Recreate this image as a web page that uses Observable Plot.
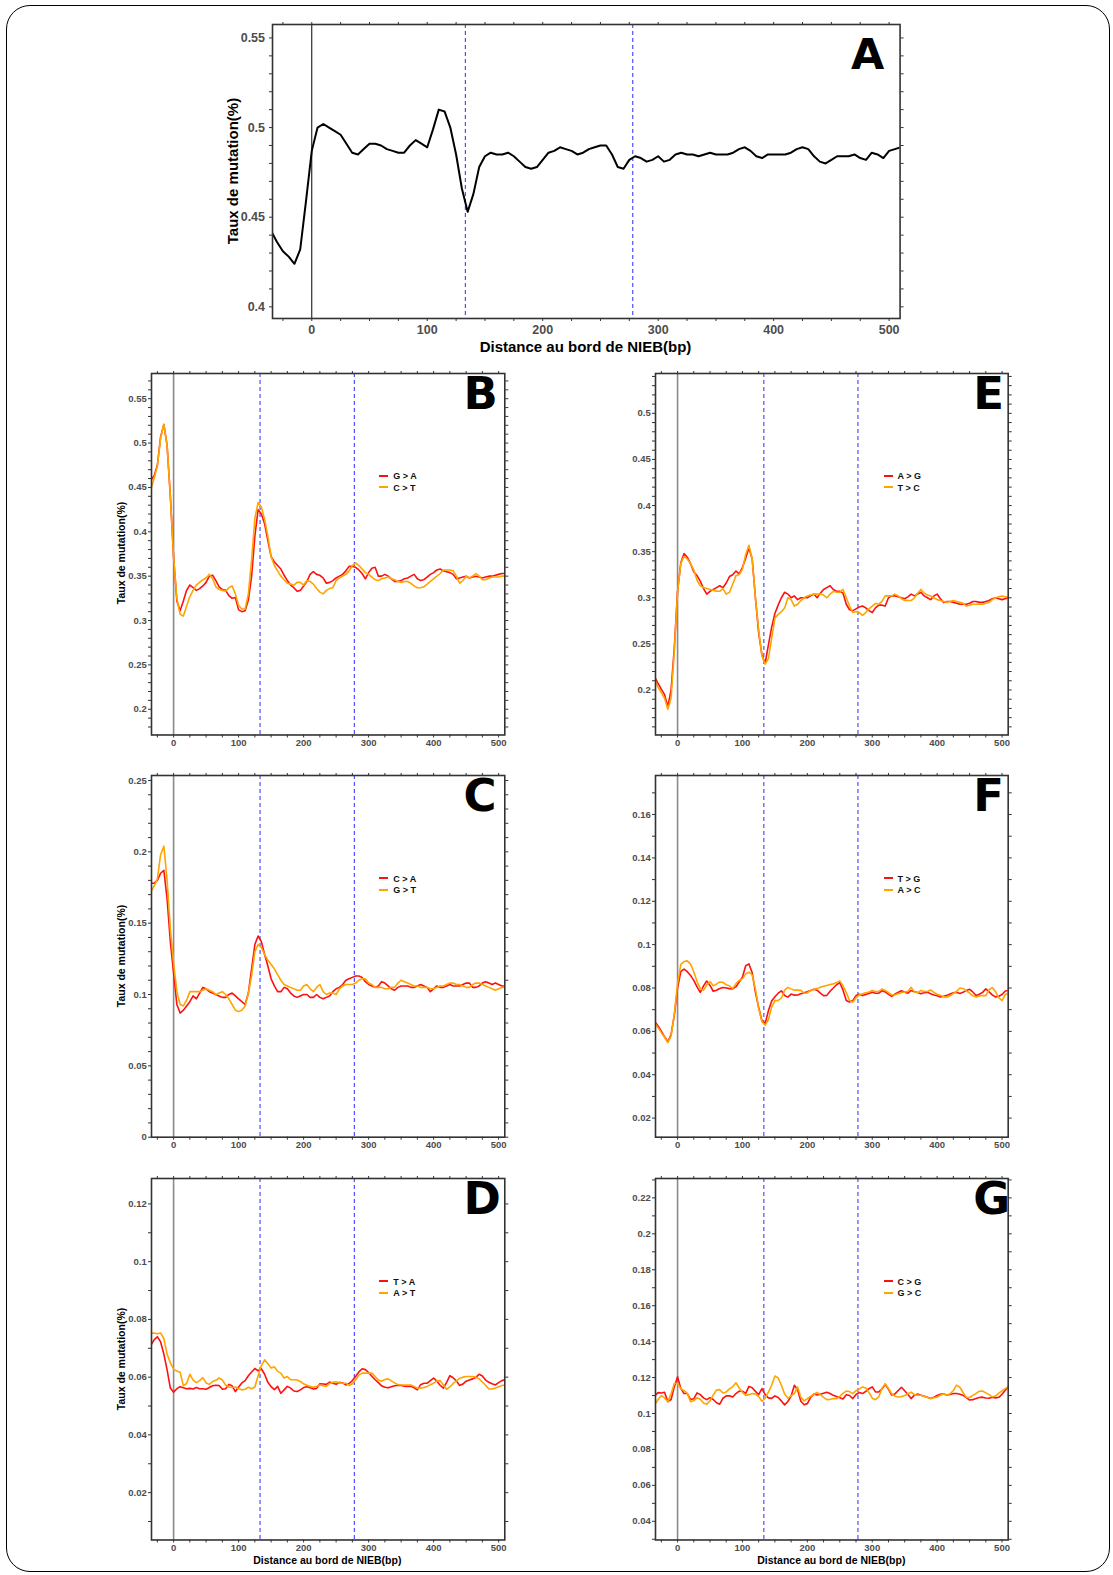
<!DOCTYPE html>
<html><head><meta charset="utf-8">
<script src="https://cdn.jsdelivr.net/npm/d3@7"></script>
<script src="https://cdn.jsdelivr.net/npm/@observablehq/plot@0.6"></script>
<style>
body{margin:0;background:#fff;}
#page{position:relative;width:1113px;height:1575px;overflow:hidden;font-family:"Liberation Sans",Arial,sans-serif;}
#border{position:absolute;left:6px;top:5px;width:1104px;height:1567px;border:1.5px solid #000;border-radius:24px;box-sizing:border-box;}
.panel{position:absolute;}
.ttl{position:absolute;font-weight:bold;color:#000;white-space:nowrap;}
.leg{position:absolute;font-weight:bold;font-size:9px;color:#111;line-height:11.3px;white-space:nowrap;}
.leg .sw{display:inline-block;width:9px;height:2px;vertical-align:middle;margin-right:5px;position:relative;top:-1px;}
</style></head>
<body><div id="page"><div id="border"></div></div>
<script>
// positions (bp) : -35 .. 510, step 5
const pos = [-35,-30,-25,-20,-15,-10,-5,0,5,10,15,20,25,30,35,40,45,50,55,60,65,70,75,80,85,90,95,100,105,110,115,120,125,130,135,140,145,150,155,160,165,170,175,180,185,190,195,200,205,210,215,220,225,230,235,240,245,250,255,260,265,270,275,280,285,290,295,300,305,310,315,320,325,330,335,340,345,350,355,360,365,370,375,380,385,390,395,400,405,410,415,420,425,430,435,440,445,450,455,460,465,470,475,480,485,490,495,500,505,510];

const rateA = [0.442,0.436,0.431,0.428,0.424,0.432,0.459,0.487,0.500,0.502,
0.500,0.498,0.496,0.491,0.486,0.485,0.488,0.491,0.491,0.490,
0.488,0.487,0.486,0.486,0.490,0.493,0.491,0.489,0.499,0.510,
0.509,0.500,0.485,0.466,0.453,0.463,0.478,0.484,0.486,0.485,
0.485,0.486,0.484,0.481,0.478,0.477,0.478,0.482,0.486,0.487,
0.489,0.488,0.487,0.485,0.486,0.488,0.489,0.490,0.490,0.485,
0.478,0.477,0.482,0.484,0.483,0.481,0.482,0.484,0.481,0.482,
0.485,0.486,0.485,0.485,0.484,0.485,0.486,0.485,0.485,0.485,
0.486,0.488,0.489,0.487,0.484,0.483,0.485,0.485,0.485,0.485,
0.486,0.488,0.489,0.488,0.484,0.481,0.480,0.482,0.484,0.484,
0.484,0.485,0.483,0.482,0.486,0.485,0.483,0.487,0.488,0.489];

const gaB = [0.458,0.463,0.475,0.507,0.521,0.497,0.440,0.371,0.322,0.311,
0.322,0.334,0.340,0.337,0.334,0.336,0.339,0.343,0.350,0.351,
0.345,0.338,0.335,0.334,0.328,0.325,0.326,0.312,0.310,0.311,
0.323,0.350,0.395,0.425,0.420,0.409,0.390,0.372,0.366,0.362,
0.358,0.351,0.345,0.340,0.337,0.333,0.334,0.339,0.344,0.352,
0.355,0.352,0.351,0.348,0.342,0.343,0.345,0.348,0.350,0.352,
0.356,0.361,0.361,0.360,0.357,0.353,0.347,0.354,0.359,0.360,
0.350,0.350,0.352,0.350,0.347,0.344,0.344,0.345,0.347,0.348,
0.350,0.352,0.347,0.345,0.346,0.349,0.352,0.354,0.357,0.358,
0.356,0.355,0.354,0.352,0.347,0.348,0.349,0.350,0.348,0.349,
0.350,0.349,0.348,0.349,0.350,0.350,0.351,0.352,0.353,0.353];
const ctB = [0.448,0.460,0.474,0.506,0.521,0.497,0.440,0.371,0.325,0.307,
0.305,0.316,0.327,0.334,0.340,0.343,0.346,0.348,0.352,0.347,
0.338,0.335,0.334,0.333,0.337,0.339,0.330,0.317,0.313,0.313,
0.330,0.368,0.415,0.433,0.428,0.414,0.395,0.372,0.362,0.356,
0.350,0.346,0.342,0.341,0.340,0.343,0.343,0.340,0.345,0.344,
0.341,0.336,0.332,0.330,0.334,0.336,0.337,0.345,0.348,0.350,
0.352,0.356,0.362,0.365,0.362,0.358,0.354,0.352,0.349,0.346,
0.345,0.347,0.348,0.349,0.347,0.346,0.344,0.343,0.344,0.344,
0.342,0.339,0.337,0.337,0.338,0.341,0.344,0.347,0.350,0.353,
0.357,0.357,0.357,0.356,0.350,0.342,0.345,0.350,0.348,0.350,
0.353,0.350,0.346,0.346,0.348,0.349,0.349,0.349,0.350,0.350];

const caC = [0.178,0.178,0.180,0.185,0.187,0.167,0.137,0.115,0.093,0.087,
0.089,0.092,0.095,0.099,0.097,0.101,0.105,0.104,0.102,0.101,
0.100,0.099,0.098,0.098,0.100,0.101,0.099,0.097,0.095,0.093,
0.101,0.118,0.135,0.141,0.137,0.128,0.120,0.111,0.106,0.102,
0.102,0.105,0.104,0.101,0.099,0.098,0.099,0.100,0.100,0.098,
0.098,0.100,0.098,0.097,0.098,0.099,0.102,0.104,0.105,0.107,
0.110,0.111,0.112,0.113,0.113,0.112,0.109,0.107,0.106,0.105,
0.106,0.109,0.108,0.106,0.104,0.103,0.105,0.106,0.106,0.106,
0.105,0.105,0.106,0.107,0.106,0.105,0.102,0.104,0.106,0.105,
0.105,0.106,0.107,0.106,0.106,0.106,0.107,0.108,0.108,0.105,
0.105,0.106,0.108,0.109,0.108,0.107,0.108,0.107,0.106,0.106];
const gtC = [0.172,0.176,0.181,0.198,0.204,0.180,0.146,0.122,0.102,0.093,
0.092,0.096,0.102,0.102,0.102,0.102,0.103,0.104,0.103,0.102,
0.100,0.101,0.102,0.100,0.097,0.093,0.089,0.088,0.089,0.092,
0.101,0.113,0.130,0.135,0.133,0.128,0.124,0.121,0.118,0.114,
0.110,0.107,0.106,0.105,0.104,0.103,0.103,0.106,0.107,0.104,
0.102,0.105,0.107,0.102,0.100,0.101,0.101,0.100,0.104,0.106,
0.107,0.107,0.107,0.108,0.110,0.111,0.111,0.108,0.107,0.105,
0.105,0.105,0.104,0.104,0.105,0.105,0.108,0.110,0.109,0.108,
0.107,0.106,0.106,0.105,0.105,0.105,0.104,0.104,0.105,0.106,
0.106,0.107,0.108,0.108,0.107,0.107,0.106,0.105,0.105,0.107,
0.108,0.108,0.107,0.106,0.105,0.104,0.103,0.104,0.105,0.105];

const taD = [0.0710,0.0729,0.0740,0.0722,0.0680,0.0625,0.0562,0.0548,0.0560,0.0567,
0.0563,0.0560,0.0561,0.0559,0.0564,0.0560,0.0560,0.0558,0.0564,0.0570,
0.0572,0.0571,0.0558,0.0560,0.0575,0.0570,0.0550,0.0566,0.0580,0.0588,
0.0605,0.0618,0.0630,0.0622,0.0629,0.0610,0.0582,0.0567,0.0557,0.0568,
0.0544,0.0556,0.0568,0.0562,0.0552,0.0550,0.0556,0.0564,0.0567,0.0563,
0.0559,0.0561,0.0577,0.0576,0.0575,0.0583,0.0579,0.0575,0.0582,0.0580,
0.0573,0.0578,0.0588,0.0602,0.0618,0.0629,0.0626,0.0616,0.0603,0.0591,
0.0581,0.0570,0.0565,0.0563,0.0567,0.0570,0.0572,0.0571,0.0569,0.0568,
0.0568,0.0563,0.0556,0.0574,0.0579,0.0579,0.0588,0.0597,0.0586,0.0572,
0.0562,0.0582,0.0605,0.0598,0.0587,0.0571,0.0576,0.0586,0.0590,0.0594,
0.0599,0.0610,0.0604,0.0590,0.0582,0.0577,0.0573,0.0581,0.0588,0.0591];
const atD = [0.0752,0.0753,0.0750,0.0753,0.0733,0.0680,0.0649,0.0628,0.0621,0.0617,
0.0570,0.0578,0.0610,0.0590,0.0581,0.0588,0.0598,0.0580,0.0575,0.0585,
0.0589,0.0597,0.0590,0.0573,0.0566,0.0564,0.0566,0.0560,0.0556,0.0558,
0.0565,0.0560,0.0566,0.0605,0.0640,0.0660,0.0646,0.0632,0.0636,0.0620,
0.0614,0.0597,0.0602,0.0591,0.0591,0.0590,0.0585,0.0577,0.0572,0.0568,
0.0565,0.0568,0.0573,0.0570,0.0568,0.0578,0.0582,0.0584,0.0580,0.0579,
0.0579,0.0571,0.0577,0.0591,0.0607,0.0614,0.0614,0.0614,0.0614,0.0602,
0.0590,0.0586,0.0592,0.0594,0.0587,0.0580,0.0574,0.0573,0.0573,0.0573,
0.0573,0.0568,0.0562,0.0562,0.0564,0.0568,0.0574,0.0579,0.0587,0.0588,
0.0573,0.0558,0.0566,0.0578,0.0587,0.0596,0.0600,0.0602,0.0602,0.0602,
0.0600,0.0594,0.0583,0.0572,0.0559,0.0559,0.0562,0.0567,0.0571,0.0573];

const agE = [0.214,0.207,0.201,0.195,0.182,0.200,0.246,0.307,0.338,0.348,
0.344,0.337,0.328,0.324,0.318,0.310,0.304,0.307,0.309,0.311,
0.313,0.311,0.316,0.323,0.325,0.329,0.326,0.333,0.343,0.354,
0.342,0.300,0.262,0.238,0.229,0.249,0.268,0.283,0.292,0.300,
0.306,0.304,0.300,0.302,0.298,0.300,0.300,0.300,0.302,0.304,
0.300,0.305,0.309,0.311,0.313,0.309,0.307,0.307,0.305,0.293,
0.287,0.286,0.288,0.290,0.291,0.289,0.286,0.284,0.289,0.292,
0.292,0.291,0.300,0.302,0.302,0.301,0.300,0.299,0.301,0.304,
0.302,0.304,0.306,0.302,0.300,0.298,0.302,0.304,0.299,0.295,
0.296,0.296,0.295,0.294,0.293,0.293,0.293,0.294,0.296,0.296,
0.295,0.295,0.296,0.297,0.299,0.300,0.299,0.298,0.299,0.300];
const tcE = [0.211,0.203,0.197,0.191,0.179,0.191,0.242,0.307,0.337,0.345,
0.342,0.337,0.330,0.319,0.313,0.311,0.310,0.309,0.308,0.307,
0.307,0.310,0.304,0.306,0.315,0.324,0.325,0.331,0.347,0.357,
0.342,0.300,0.265,0.237,0.228,0.234,0.256,0.278,0.282,0.285,
0.289,0.300,0.298,0.291,0.293,0.297,0.300,0.302,0.303,0.304,
0.304,0.304,0.303,0.300,0.304,0.307,0.306,0.306,0.309,0.300,
0.291,0.284,0.285,0.284,0.281,0.284,0.288,0.291,0.294,0.293,
0.296,0.302,0.302,0.302,0.304,0.302,0.299,0.297,0.297,0.297,
0.300,0.305,0.309,0.305,0.303,0.302,0.300,0.298,0.297,0.296,
0.295,0.296,0.297,0.296,0.295,0.294,0.291,0.292,0.293,0.293,
0.293,0.293,0.294,0.295,0.298,0.300,0.301,0.302,0.301,0.301];

const tgF = [0.0645,0.0625,0.0601,0.0575,0.0552,0.0585,0.0675,0.0800,0.0877,0.0887,
0.0875,0.0858,0.0835,0.0805,0.0780,0.0810,0.0832,0.0812,0.0785,0.0790,
0.0798,0.0802,0.0800,0.0797,0.0796,0.0806,0.0828,0.0850,0.0903,0.0911,
0.0870,0.0780,0.0710,0.0650,0.0636,0.0695,0.0740,0.0760,0.0776,0.0787,
0.0765,0.0758,0.0772,0.0767,0.0768,0.0773,0.0778,0.0783,0.0789,0.0794,
0.0790,0.0776,0.0765,0.0766,0.0785,0.0800,0.0815,0.0825,0.0790,0.0742,
0.0735,0.0742,0.0765,0.0771,0.0765,0.0770,0.0775,0.0780,0.0776,0.0776,
0.0787,0.0782,0.0771,0.0761,0.0772,0.0780,0.0787,0.0780,0.0776,0.0789,
0.0783,0.0779,0.0773,0.0778,0.0780,0.0774,0.0768,0.0764,0.0759,0.0762,
0.0766,0.0772,0.0778,0.0780,0.0775,0.0780,0.0789,0.0794,0.0782,0.0765,
0.0771,0.0780,0.0796,0.0782,0.0768,0.0759,0.0762,0.0770,0.0786,0.0789];
const acF = [0.0637,0.0617,0.0594,0.0573,0.0548,0.0578,0.0680,0.0820,0.0909,0.0922,
0.0925,0.0910,0.0875,0.0830,0.0798,0.0790,0.0815,0.0830,0.0810,0.0818,
0.0828,0.0826,0.0815,0.0810,0.0797,0.0820,0.0835,0.0842,0.0865,0.0873,
0.0860,0.0795,0.0707,0.0645,0.0628,0.0655,0.0712,0.0742,0.0743,0.0753,
0.0790,0.0803,0.0796,0.0790,0.0790,0.0789,0.0776,0.0777,0.0789,0.0794,
0.0797,0.0803,0.0808,0.0812,0.0816,0.0819,0.0825,0.0833,0.0810,0.0780,
0.0742,0.0735,0.0755,0.0768,0.0773,0.0778,0.0782,0.0788,0.0784,0.0784,
0.0795,0.0789,0.0779,0.0768,0.0769,0.0774,0.0779,0.0781,0.0785,0.0803,
0.0782,0.0778,0.0789,0.0784,0.0784,0.0791,0.0780,0.0771,0.0766,0.0759,
0.0757,0.0764,0.0775,0.0784,0.0800,0.0798,0.0787,0.0776,0.0764,0.0758,
0.0763,0.0765,0.0765,0.0792,0.0802,0.0783,0.0755,0.0742,0.0770,0.0775];

const cgG = [0.1100,0.1116,0.1114,0.1118,0.1066,0.1078,0.1148,0.1204,0.1140,0.1111,
0.1111,0.1078,0.1082,0.1115,0.1105,0.1087,0.1077,0.1088,0.1078,0.1060,
0.1052,0.1085,0.1098,0.1099,0.1092,0.1111,0.1124,0.1124,0.1112,0.1151,
0.1143,0.1123,0.1105,0.1139,0.1105,0.1087,0.1084,0.1098,0.1089,0.1070,
0.1048,0.1067,0.1097,0.1157,0.1130,0.1068,0.1049,0.1055,0.1090,0.1108,
0.1103,0.1107,0.1113,0.1118,0.1111,0.1101,0.1094,0.1088,0.1081,0.1104,
0.1100,0.1083,0.1106,0.1117,0.1111,0.1123,0.1138,0.1148,0.1120,0.1120,
0.1136,0.1163,0.1135,0.1103,0.1109,0.1128,0.1146,0.1127,0.1106,0.1083,
0.1102,0.1108,0.1102,0.1096,0.1090,0.1084,0.1091,0.1100,0.1107,0.1109,
0.1103,0.1106,0.1111,0.1111,0.1107,0.1101,0.1088,0.1075,0.1077,0.1083,
0.1089,0.1091,0.1086,0.1085,0.1091,0.1087,0.1090,0.1107,0.1130,0.1150];
const gcG = [0.1050,0.1078,0.1100,0.1087,0.1065,0.1109,0.1167,0.1167,0.1138,0.1127,
0.1112,0.1066,0.1072,0.1088,0.1079,0.1058,0.1052,0.1070,0.1102,0.1131,
0.1133,0.1114,0.1120,0.1137,0.1149,0.1171,0.1142,0.1118,0.1101,0.1105,
0.1111,0.1108,0.1094,0.1068,0.1085,0.1119,0.1157,0.1209,0.1198,0.1157,
0.1108,0.1086,0.1098,0.1111,0.1148,0.1090,0.1070,0.1082,0.1095,0.1107,
0.1117,0.1105,0.1090,0.1077,0.1078,0.1083,0.1083,0.1095,0.1113,0.1125,
0.1122,0.1111,0.1127,0.1136,0.1148,0.1142,0.1117,0.1085,0.1077,0.1092,
0.1140,0.1165,0.1139,0.1110,0.1096,0.1092,0.1094,0.1100,0.1110,0.1119,
0.1105,0.1102,0.1102,0.1096,0.1090,0.1084,0.1088,0.1091,0.1102,0.1109,
0.1103,0.1110,0.1128,0.1158,0.1146,0.1117,0.1090,0.1089,0.1101,0.1111,
0.1124,0.1125,0.1115,0.1105,0.1093,0.1097,0.1113,0.1126,0.1138,0.1150];

// tick labels
const xLabels = [0,100,200,300,400,500];
const xMinor = [-25,0,25,50,75,100,125,150,175,200,225,250,275,300,325,350,375,400,425,450,475,500];
const yLabA = [0.4,0.45,0.5,0.55];
const yLabB = [0.2,0.25,0.3,0.35,0.4,0.45,0.5,0.55];
const yLabC = [0,0.05,0.1,0.15,0.2,0.25];
const yLabD = [0.02,0.04,0.06,0.08,0.1,0.12];
const yLabE = [0.2,0.25,0.3,0.35,0.4,0.45,0.5];
const yLabF = [0.02,0.04,0.06,0.08,0.1,0.12,0.14,0.16];
const yLabG = [0.04,0.06,0.08,0.1,0.12,0.14,0.16,0.18,0.2,0.22];
const dashed = [133, 278];
const legB = ["G > A","C > T"], legC = ["C > A","G > T"], legD = ["T > A","A > T"];
const legE = ["A > G","T > C"], legF = ["T > G","A > C"], legG = ["C > G","G > C"];
const RED = "#ff1010", ORANGE = "#ffa500";

const page = document.getElementById("page");
const XDOM = [-34, 509.5];

function addDiv(cls, html, css) {
  const d = document.createElement("div");
  d.className = cls; d.innerHTML = html;
  Object.assign(d.style, css);
  page.appendChild(d);
  return d;
}

function panel(p) {
  const mL = 60, mR = 20, mT = 10, mB = 30;
  const width = p.R - p.L + mL + mR, height = p.B - p.T + mT + mB;
  const fs = p.big ? 12.5 : 9.5;
  const lo = Math.ceil(p.y[0] * 100 - 1e-9), hi = Math.floor(p.y[1] * 100 + 1e-9);
  const yMinor = d3.range(lo, hi + 1).map(i => +(i / 100).toFixed(2));
  const labSet = new Set(p.labels.map(d => d.toFixed(3)));
  const fmtY = d => labSet.has(d.toFixed(3)) ? String(d) : "";
  const fmtX = d => xLabels.includes(d) ? String(d) : "";
  const ax = {tickSize: 3, stroke: "#333", strokeWidth: 1, fill: "#4d4d4d", fontSize: fs, fontWeight: "bold", label: null};
  const marks = [
    Plot.ruleX([0], {stroke: p.big ? "#000" : "#8a8a8a", strokeWidth: p.big ? 1 : 1.6}),
    Plot.ruleX(dashed, {stroke: "#2a2aff", strokeDasharray: "4,3", strokeWidth: 1}),
  ];
  p.series.forEach(s => {
    marks.push(Plot.line(s.v, {x: (d, i) => pos[i], y: d => d, stroke: s.c, strokeWidth: p.big ? 2 : 1.6, clip: true}));
  });
  marks.push(
    Plot.axisX(xMinor, {...ax, anchor: "bottom", tickFormat: fmtX, tickPadding: p.big ? 4 : 1.5}),
    Plot.axisX(xMinor, {...ax, anchor: "top", tickFormat: () => ""}),
    Plot.axisY(yMinor, {...ax, anchor: "left", tickFormat: fmtY, tickPadding: p.big ? 4.5 : 1.8}),
    Plot.axisY(yMinor, {...ax, anchor: "right", tickFormat: () => ""}),
    Plot.frame({stroke: "#333", strokeWidth: 1.6}),
    Plot.text([{x: p.lx, y: p.y[1], t: p.id}], {x: "x", y: "y", text: "t", textAnchor: "start", lineAnchor: "top",
      dy: p.big ? 14 : 3.5, fontSize: p.big ? 43 : 45, fontWeight: "bold", fontFamily: "DejaVu Sans", fill: "#000"})
  );
  const chart = Plot.plot({
    width, height, marginLeft: mL, marginRight: mR, marginTop: mT, marginBottom: mB,
    x: {domain: XDOM}, y: {domain: p.y},
    style: {fontFamily: '"Liberation Sans", Arial, sans-serif', fontWeight: "bold", overflow: "visible", background: "transparent"},
    marks
  });
  chart.classList.add("panel");
  chart.style.position = "absolute";
  chart.style.left = (p.L - mL) + "px";
  chart.style.top = (p.T - mT) + "px";
  chart.style.maxWidth = "none";
  page.appendChild(chart);

  const cy = (p.T + p.B) / 2, cx = (p.L + p.R) / 2;
  if (p.ytitle) {
    addDiv("ttl", "Taux de mutation(%)", {left: p.ytx + "px", top: cy + "px", fontSize: (p.big ? 15 : 10.5) + "px",
      transform: "translate(-50%,-50%) rotate(-90deg)"});
  }
  if (p.xtitle) {
    addDiv("ttl", "Distance au bord de NIEB(bp)", {left: cx + "px", top: p.xty + "px", fontSize: (p.big ? 15 : 10.5) + "px",
      transform: "translate(-50%,-50%)"});
  }
  if (p.legend) {
    const html = p.legend.map((t, i) => `<div><span class="sw" style="background:${p.series[i].c}"></span>${t}</div>`).join("");
    addDiv("leg", html, {left: (p.L + 228.6) + "px", top: (p.T + 104.5 - 5.65) + "px"});
  }
}

const L1 = 150.7, R1 = 504, L2 = 655, R2 = 1007.7;
const rows = [[372.5, 734], [775, 1136.7], [1178, 1539.5]];

panel({id: "A", L: 271.7, R: 899.3, T: 24.3, B: 318.3, y: [0.3935, 0.5575], labels: yLabA, big: true, lx: 467,
  series: [{v: rateA, c: "#000"}], ytitle: true, ytx: 231.5, xtitle: true, xty: 346});
panel({id: "B", L: L1, R: R1, T: rows[0][0], B: rows[0][1], y: [0.171, 0.5784], labels: yLabB, lx: 446,
  series: [{v: gaB, c: RED}, {v: ctB, c: ORANGE}], legend: legB, ytitle: true, ytx: 120.5});
panel({id: "C", L: L1, R: R1, T: rows[1][0], B: rows[1][1], y: [0, 0.2535], labels: yLabC, lx: 446,
  series: [{v: caC, c: RED}, {v: gtC, c: ORANGE}], legend: legC, ytitle: true, ytx: 120.5});
panel({id: "D", L: L1, R: R1, T: rows[2][0], B: rows[2][1], y: [0.0036, 0.1288], labels: yLabD, lx: 446,
  series: [{v: taD, c: RED}, {v: atD, c: ORANGE}], legend: legD, ytitle: true, ytx: 120.5, xtitle: true, xty: 1560});
panel({id: "E", L: L2, R: R2, T: rows[0][0], B: rows[0][1], y: [0.1512, 0.5432], labels: yLabE, lx: 455.5,
  series: [{v: agE, c: RED}, {v: tcE, c: ORANGE}], legend: legE});
panel({id: "F", L: L2, R: R2, T: rows[1][0], B: rows[1][1], y: [0.0112, 0.178], labels: yLabF, lx: 455.5,
  series: [{v: tgF, c: RED}, {v: acF, c: ORANGE}], legend: legF});
panel({id: "G", L: L2, R: R2, T: rows[2][0], B: rows[2][1], y: [0.0296, 0.2308], labels: yLabG, lx: 455.5,
  series: [{v: cgG, c: RED}, {v: gcG, c: ORANGE}], legend: legG, xtitle: true, xty: 1560});
</script>
</body></html>
